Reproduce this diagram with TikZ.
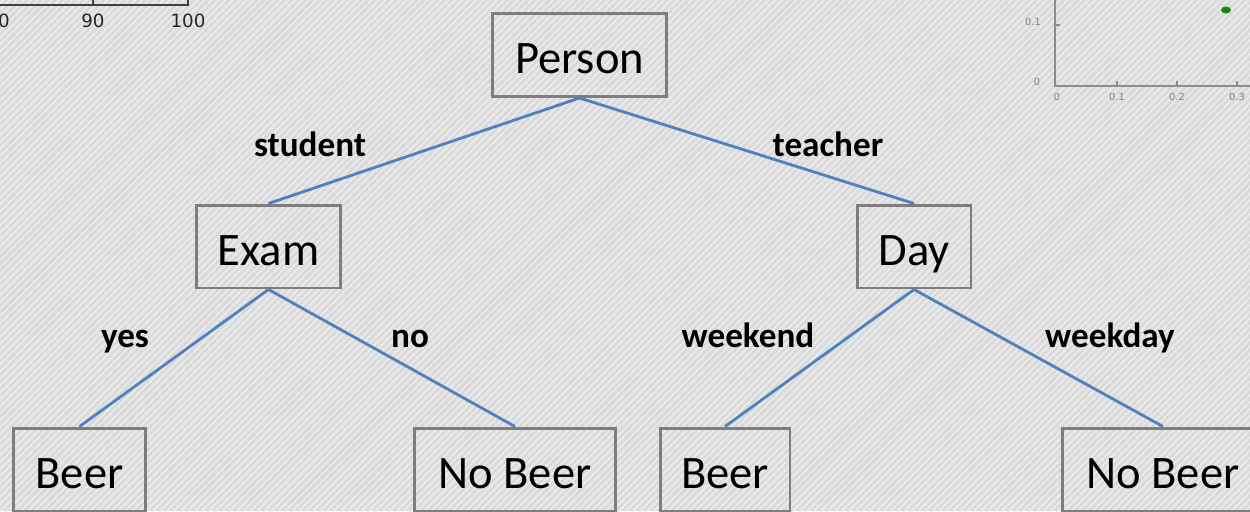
\documentclass[tikz,border=0pt]{standalone}
\usepackage{fontspec}
\setmainfont{Carlito}
\newfontfamily\plotfont{DejaVu Sans}
\usetikzlibrary{patterns.meta}

\definecolor{boxgray}{RGB}{125,125,125}
\definecolor{edgeblue}{RGB}{79,129,189}
\definecolor{backgray}{RGB}{218,218,218}
\definecolor{stripegray}{RGB}{235,235,235}
\definecolor{dotgreen}{RGB}{20,140,20}

\tikzset{
  treebox/.style={draw=boxgray, line width=1.7pt, minimum height=1.66cm,
    font=\fontsize{26.5}{30}\selectfont, inner sep=0pt, text height=0.9cm, text depth=0.16cm},
  branch/.style={draw=edgeblue, line width=1.6pt},
  answer/.style={font=\fontsize{20}{24}\selectfont\bfseries, inner sep=0pt, anchor=base},
  ticklabel/.style={font=\plotfont\fontsize{10.4}{12}\selectfont, text=black!85, inner sep=0pt},
  smalltick/.style={font=\plotfont\fontsize{5.6}{7}\selectfont, text=black!50, inner sep=0pt}
}

\begin{document}
\begin{tikzpicture}[x=0.02cm,y=-0.02cm]

% фон со штриховкой
\fill[backgray] (0,0) rectangle (1250,511);
\fill[pattern={Lines[angle=45,distance=2.8pt,line width=1pt]}, pattern color=stripegray] (0,0) rectangle (1250,511);
\useasboundingbox (0,0) rectangle (1250,511);

% обрывок графика слева вверху
\draw[black!75, line width=1pt] (-5,5) -- (188,5) -- (188,-5);
\draw[black!75, line width=0.6pt] (93,5) -- (93,-5);
\node[ticklabel] (t0) at (4,21) {0};
\node[ticklabel] (t90) at (93,21) {90};
\node[ticklabel] (t100) at (188,21) {100};

% обрывок графика справа вверху
\draw[black!45, line width=1.6pt] (1055,-5) -- (1055,86) -- (1255,86);
\foreach \xx in {1117,1177,1237} \draw[black!45, line width=0.8pt] (\xx,86) -- (\xx,81);
\draw[black!45, line width=0.8pt] (1055,25) -- (1060,25);
\node[smalltick] (y01) at (1033,22) {0.1};
\node[smalltick] (y0) at (1037,82) {0};
\node[smalltick] (x0) at (1057,97) {0};
\node[smalltick] (x01) at (1117,97) {0.1};
\node[smalltick] (x02) at (1177,97) {0.2};
\node[smalltick] (x03) at (1237,97) {0.3};
\fill[dotgreen] (1226,10) ellipse (5 and 3.5);

% дерево решений
\node[treebox, minimum width=3.5cm] (person) at (579.5,55) {Person};
\node[treebox, minimum width=2.9cm] (exam) at (268.5,246.5) {Exam};
\node[treebox, minimum width=2.28cm] (day) at (914,246.5) {Day};
\node[treebox, minimum width=2.66cm] (beerA) at (79.5,469.5) {Beer};
\node[treebox, minimum width=4.04cm] (nobeerA) at (515,469.5) {No Beer};
\node[treebox, minimum width=2.6cm] (beerB) at (725,469.5) {Beer};
\node[treebox, minimum width=4.04cm] (nobeerB) at (1163,469.5) {No Beer};

\draw[branch] (person.south) -- (exam.north);
\draw[branch] (person.south) -- (day.north);
\draw[branch] (exam.south) -- (beerA.north);
\draw[branch] (exam.south) -- (nobeerA.north);
\draw[branch] (day.south) -- (beerB.north);
\draw[branch] (day.south) -- (nobeerB.north);

% подписи ветвей
\node[answer] (student) at (310,156) {student};
\node[answer] (teacher) at (828,156) {teacher};
\node[answer] (yes) at (125,347) {yes};
\node[answer] (no) at (410,347) {no};
\node[answer] (weekend) at (748,347) {weekend};
\node[answer] (weekday) at (1110,347) {weekday};

\end{tikzpicture}
\end{document}
